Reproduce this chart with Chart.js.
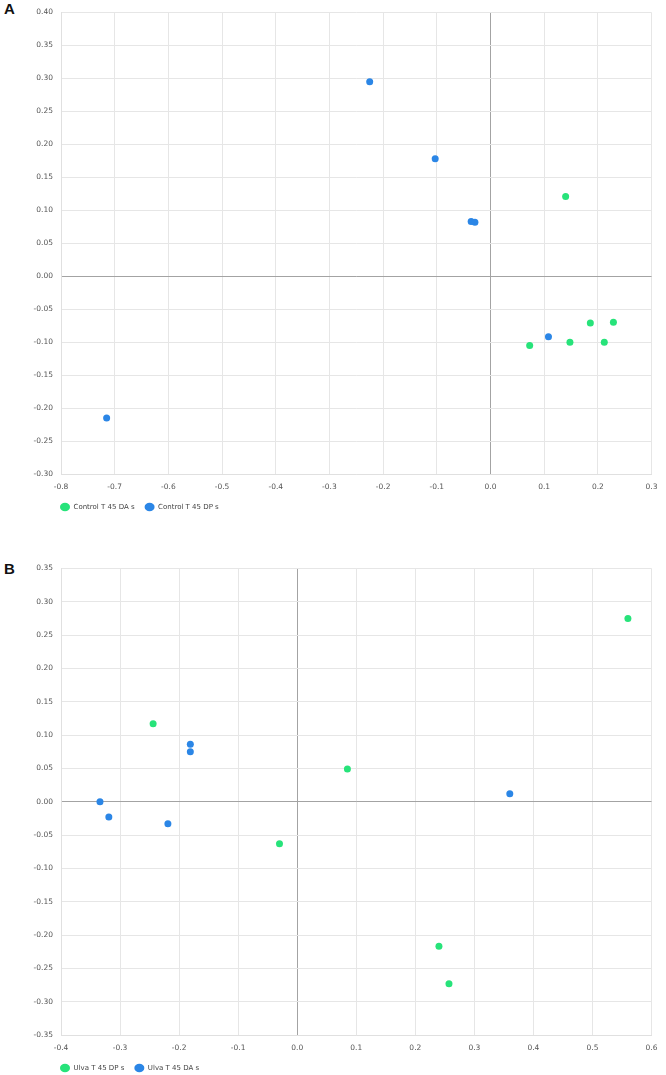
<!DOCTYPE html>
<html>
<head>
<meta charset="utf-8">
<script src="https://cdn.jsdelivr.net/npm/chart.js@4.4.1/dist/chart.umd.min.js"></script>
<style>
  html, body { margin: 0; padding: 0; background: #fff; overflow: hidden; }
  body { width: 666px; height: 1075px; position: relative; }
  .panel { position: absolute; left: 0; width: 666px; }
  .tag { position: absolute; left: 4px; font: bold 15px "Liberation Sans", Arial, sans-serif; color: #111; }
</style>
</head>
<body>
<div class="tag" style="top:0px">A</div>
<div class="panel" style="top:0px;height:530px"><canvas id="chartA" width="666" height="530"></canvas></div>
<div class="tag" style="top:560px">B</div>
<div class="panel" style="top:540px;height:545px"><canvas id="chartB" width="666" height="545"></canvas></div>
<script>
// panel A
const labelsA = ['Control T 45 DA s', 'Control T 45 DP s'];
const ctrlDA_x = [0.140, 0.073, 0.148, 0.186, 0.212, 0.229];
const ctrlDA_y = [0.121, -0.105, -0.100, -0.071, -0.100, -0.070];
const ctrlDP_x = [-0.715, -0.225, -0.103, -0.036, -0.029, 0.108];
const ctrlDP_y = [-0.215, 0.295, 0.178, 0.083, 0.082, -0.092];
const xTicksA = [-0.8, 0.3];
const yTicksA = [-0.30, 0.40];

// panel B
const labelsB = ['Ulva T 45 DP s', 'Ulva T 45 DA s'];
const ulvaDP_x = [-0.244, -0.030, 0.085, 0.240, 0.257, 0.560];
const ulvaDP_y = [0.117, -0.063, 0.049, -0.217, -0.273, 0.275];
const ulvaDA_x = [-0.334, -0.319, -0.219, -0.181, -0.181, 0.360];
const ulvaDA_y = [0.000, -0.023, -0.033, 0.086, 0.075, 0.012];
const xTicksB = [-0.4, 0.6];
const yTicksB = [-0.35, 0.35];

const green = '#27e37a';
const blue = '#2b86e6';
const tickFont = { family: 'DejaVu Sans', size: 7.5 };

function pts(xs, ys) {
    return xs.map((x, i) => ({ x: x, y: ys[i] }));
}

function gridColor(context) {
    return Math.abs(context.tick.value) < 1e-9 ? '#a3a3a3' : '#e6e6e6';
}

// legend sits under the plot, starting near the y axis line
const legendShift = {
    id: 'legendShift',
    afterLayout(chart) {
        chart.legend.left = 50;
    }
};

function makeOptions(xr, yr, padTop, padBottom) {
    return {
        responsive: false,
        animation: false,
        layout: { padding: { left: 0, right: 7, top: padTop, bottom: padBottom } },
        plugins: {
            legend: {
                position: 'bottom',
                align: 'start',
                labels: {
                    usePointStyle: true,
                    pointStyle: 'circle',
                    boxHeight: 6,
                    pointStyleWidth: 10,
                    padding: 10,
                    color: '#444',
                    font: { family: 'DejaVu Sans', size: 7 }
                }
            },
            tooltip: { enabled: false }
        },
        scales: {
            x: {
                type: 'linear',
                min: xr[0],
                max: xr[1],
                afterFit: function(scale) { scale.height = 19.5; },
                ticks: {
                    stepSize: 0.1,
                    padding: 8.5,
                    color: '#555',
                    font: tickFont,
                    maxRotation: 0,
                    callback: function(v) { return Number(v).toFixed(1); }
                },
                grid: { color: gridColor, drawTicks: false, lineWidth: 1 },
                border: { color: '#e0e0e0' }
            },
            y: {
                type: 'linear',
                min: yr[0],
                max: yr[1],
                afterFit: function(scale) { scale.width = 61; },
                ticks: {
                    stepSize: 0.05,
                    padding: 8,
                    color: '#555',
                    font: tickFont,
                    callback: function(v) { return Number(v).toFixed(2); }
                },
                grid: { color: gridColor, drawTicks: false, lineWidth: 1 },
                border: { color: '#e0e0e0' }
            }
        }
    };
}

function dataset(label, data, color) {
    return {
        label: label,
        data: data,
        backgroundColor: color,
        borderColor: color,
        borderWidth: 0,
        pointRadius: 3.5
    };
}

new Chart(document.getElementById('chartA').getContext('2d'), {
    type: 'scatter',
    data: {
        datasets: [
            dataset(labelsA[0], pts(ctrlDA_x, ctrlDA_y), green),
            dataset(labelsA[1], pts(ctrlDP_x, ctrlDP_y), blue)
        ]
    },
    options: makeOptions(xTicksA, yTicksA, 7, 9.5),
    plugins: [legendShift]
});

new Chart(document.getElementById('chartB').getContext('2d'), {
    type: 'scatter',
    data: {
        datasets: [
            dataset(labelsB[0], pts(ulvaDP_x, ulvaDP_y), green),
            dataset(labelsB[1], pts(ulvaDA_x, ulvaDA_y), blue)
        ]
    },
    options: makeOptions(xTicksB, yTicksB, 28.4, 3.5),
    plugins: [legendShift]
});
</script>
</body>
</html>
